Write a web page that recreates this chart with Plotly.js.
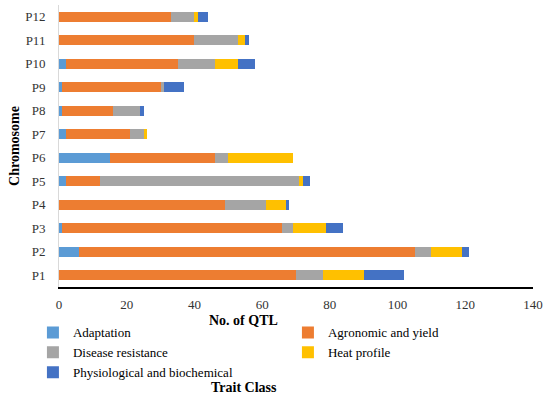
<!DOCTYPE html>
<html>
<head>
<meta charset="utf-8">
<script src="https://cdn.plot.ly/plotly-3.0.1.min.js"></script>
<style>html,body{margin:0;padding:0;background:#fff;}#chart{width:550px;height:395px;}</style>
</head>
<body>
<div id="chart"></div>
<script>
var chromosomes = ["P1","P2","P3","P4","P5","P6","P7","P8","P9","P10","P11","P12"];
var adaptation   = [0, 6, 1, 0, 2, 15, 2, 1, 1, 2, 0, 0];
var agronomic    = [70, 99, 65, 49, 10, 31, 19, 15, 29, 33, 40, 33];
var disease      = [8, 5, 3, 12, 59, 4, 4, 8, 1, 11, 13, 7];
var heat         = [12, 9, 10, 6, 1, 19, 1, 0, 0, 7, 2, 1];
var physio       = [12, 2, 5, 1, 2, 0, 0, 1, 6, 5, 1, 3];
var seriesNames = ["Adaptation","Agronomic and yield","Disease resistance","Heat profile","Physiological and biochemical"];
var seriesColors = ["#5B9BD5","#ED7D31","#A5A5A5","#FFC000","#4472C4"];
var seriesValues = [adaptation, agronomic, disease, heat, physio];

var font = "Liberation Serif, DejaVu Serif, serif";
var traces = seriesValues.map(function(v, i){
  return {type:"bar", orientation:"h", name:seriesNames[i], x:v, y:chromosomes,
          marker:{color:seriesColors[i], line:{width:0}}};
});

var layout = {
  width:550, height:395,
  margin:{l:59, r:17, t:5, b:108, autoexpand:false},
  barmode:"stack", bargap:0.58,
  paper_bgcolor:"#fff", plot_bgcolor:"#fff",
  font:{family:font, size:13, color:"#000"},
  showlegend:true,
  xaxis:{range:[0,140], dtick:20, tick0:0, showgrid:false, zeroline:false,
         showline:true, linecolor:"#000", linewidth:1.5, ticks:"",
         tickfont:{family:font, size:13, color:"#333"}, ticklabelstandoff:5},
  yaxis:{categoryorder:"array", categoryarray:chromosomes, showgrid:false, zeroline:false,
         showline:true, linecolor:"#d9d9d9", linewidth:1, ticks:"",
         tickfont:{family:font, size:13, color:"#333"}, ticklabelstandoff:10,
         title:{text:"<b>Chromosome</b>", font:{family:font, size:14, color:"#000"}, standoff:2}},
  legend:{orientation:"h", x:-0.055, xanchor:"left", y:-0.108, yanchor:"top",
          entrywidth:210, entrywidthmode:"pixels", itemwidth:30, tracegroupgap:0,
          font:{family:font, size:13, color:"#000"}, traceorder:"normal", bgcolor:"rgba(0,0,0,0)"},
  annotations:[
    {text:"<b>No. of QTL</b>", xref:"paper", yref:"paper", x:0.39, y:-0.118,
     xanchor:"center", yanchor:"middle", showarrow:false,
     font:{family:font, size:14, color:"#000"}},
    {text:"<b>Trait Class</b>", xref:"paper", yref:"paper", x:0.39, y:-0.355,
     xanchor:"center", yanchor:"middle", showarrow:false,
     font:{family:font, size:14, color:"#000"}}]
};
Plotly.newPlot("chart", traces, layout, {displayModeBar:false, staticPlot:true});
</script>
</body>
</html>
